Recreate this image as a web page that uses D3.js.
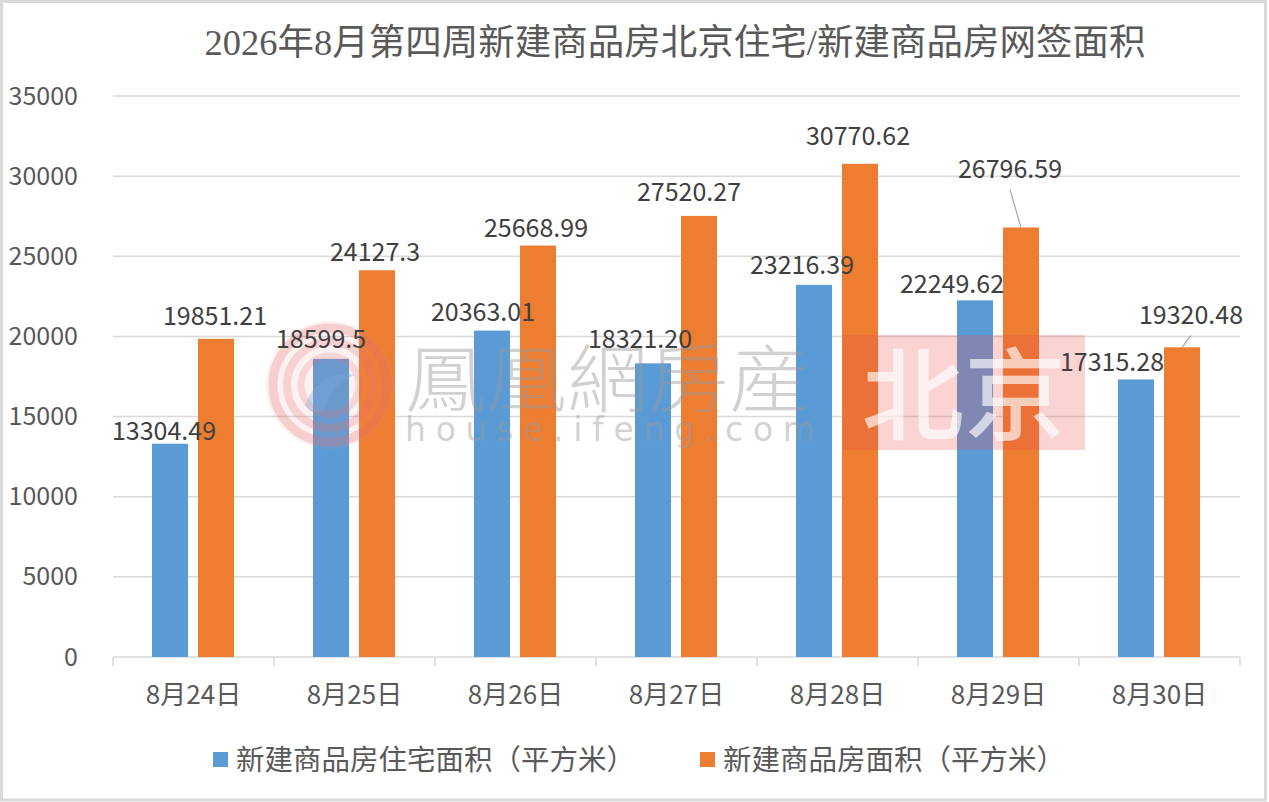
<!DOCTYPE html>
<html>
<head>
<meta charset="utf-8">
<script src="https://cdn.jsdelivr.net/npm/d3@7"></script>
<style>
  html, body { margin: 0; padding: 0; background: #fff; }
  svg { display: block; }
</style>
</head>
<body>
<svg id="chart" width="1269" height="802"></svg>
<script>
// ---------------- DATA ----------------
const title = "2026年8月第四周新建商品房北京住宅/新建商品房网签面积";
const categories = ["8月24日", "8月25日", "8月26日", "8月27日", "8月28日", "8月29日", "8月30日"];
const seriesNames = ["新建商品房住宅面积（平方米）", "新建商品房面积（平方米）"];
const residentialValues = [13304.49, 18599.5, 20363.01, 18321.20, 23216.39, 22249.62, 17315.28];
const totalValues = [19851.21, 24127.3, 25668.99, 27520.27, 30770.62, 26796.59, 19320.48];
const residentialLabels = ["13304.49", "18599.5", "20363.01", "18321.20", "23216.39", "22249.62", "17315.28"];
const totalLabels = ["19851.21", "24127.3", "25668.99", "27520.27", "30770.62", "26796.59", "19320.48"];
const yTicks = [0, 5000, 10000, 15000, 20000, 25000, 30000, 35000];

// ---------------- LAYOUT / STYLE ----------------
const W = 1269, H = 802;
const plot = { left: 113, right: 1240, top: 96, bottom: 657 };
const colors = ["#5B9BD5", "#ED7D31"];
const gridColor = "#d9d9d9";
const textColor = "#595959";
const labelColor = "#404040";
const cjk = "'Noto Sans CJK SC', 'Noto Sans', sans-serif";
// label nudges (dx from bar centre, dy of label centre from bar top), plus leader flag
const resNudge = [[-6, -13], [-10, -20], [-9, -19], [-13, -24], [-12, -20], [-23, -16], [-24, -17]];
const totNudge = [[-1, -23], [-2, -18], [-2, -18], [-10, -24], [-2, -28], [-11, -58, true], [9, -32, true]];

const svg = d3.select("#chart");

// frame
svg.append("rect").attr("x", 1.5).attr("y", 1.5).attr("width", W - 5).attr("height", H - 3.5)
  .attr("fill", "#fff").attr("stroke", "#d9d9d9").attr("stroke-width", 3);

const y = d3.scaleLinear().domain([0, 35000]).range([plot.bottom, plot.top]);
const x = d3.scaleBand().domain(categories).range([plot.left, plot.right]).paddingInner(0).paddingOuter(0);
const bw = x.bandwidth();
const xs = d3.scaleBand().domain([0, 1]).range([bw * 0.2422, bw * 0.7516]).paddingInner(0.217).paddingOuter(0);

// title
svg.append("text").attr("x", 675).attr("y", 55).attr("text-anchor", "middle")
  .attr("font-family", "'Liberation Serif', 'Noto Sans CJK SC', serif")
  .attr("font-size", 36.5).attr("fill", textColor).text(title);

// gridlines
svg.append("g").selectAll("line").data(yTicks.filter(d => d > 0)).join("line")
  .attr("x1", plot.left).attr("x2", plot.right)
  .attr("y1", d => y(d)).attr("y2", d => y(d))
  .attr("stroke", gridColor).attr("stroke-width", 1.5);

// y axis labels
const yAxis = d3.axisLeft(y).tickValues(yTicks).tickSize(0).tickPadding(35).tickFormat(d3.format("d"));
const gy = svg.append("g").attr("transform", `translate(${plot.left},0)`).call(yAxis);
gy.select(".domain").remove();
gy.selectAll("text").attr("font-family", cjk).attr("font-size", 25).attr("fill", textColor);

// x axis
const xAxis = d3.axisBottom(x).tickSize(0).tickPadding(0);
const gx = svg.append("g").attr("transform", `translate(0,${plot.bottom})`).call(xAxis);
gx.select(".domain").attr("stroke", gridColor).attr("stroke-width", 1.5).attr("d", `M${plot.left},0H${plot.right}`);
gx.selectAll("text").attr("font-family", cjk).attr("font-size", 26).attr("fill", textColor)
  .attr("dy", 0).attr("y", 47);
// x axis tick marks at band boundaries
const bounds = categories.map(c => x(c)).concat([plot.right]);
gx.append("g").selectAll("line").data(bounds).join("line")
  .attr("x1", d => d).attr("x2", d => d).attr("y1", 0).attr("y2", 9)
  .attr("stroke", gridColor).attr("stroke-width", 1.5);

// bars
const seriesValues = [residentialValues, totalValues];
const barsG = svg.append("g");
seriesValues.forEach((vals, si) => {
  barsG.append("g").selectAll("rect").data(vals).join("rect")
    .attr("x", (d, i) => x(categories[i]) + xs(si))
    .attr("y", d => y(d))
    .attr("width", xs.bandwidth())
    .attr("height", d => y(0) - y(d))
    .attr("fill", colors[si]);
});

// ---------------- WATERMARK ----------------
const wm = svg.append("g").attr("pointer-events", "none");
// logo swirl
const logo = wm.append("g").attr("transform", "translate(330,385)");
logo.append("circle").attr("r", 64).attr("fill", "rgb(240,140,140)").attr("fill-opacity", 0.12);
[[57, 9], [43, 8], [29, 7]].forEach(([r, sw], k) => {
  logo.append("circle").attr("r", r).attr("fill", "none")
    .attr("stroke", "rgb(232,110,110)").attr("stroke-opacity", 0.26 - k * 0.03).attr("stroke-width", sw);
});
logo.append("path").attr("d", "M-25,20 C-15,-5 5,-15 25,-10 C10,-5 0,5 -5,25 C-12,30 -20,28 -25,20 Z")
  .attr("fill", "rgb(120,170,220)").attr("fill-opacity", 0.35);
// brand text
wm.append("text").attr("x", 405).attr("y", 406).attr("font-family", "'Noto Sans CJK TC', 'Noto Sans CJK SC', serif")
  .attr("font-size", 74).attr("font-weight", 300).attr("fill", "#9a9a9a").attr("fill-opacity", 0.45)
  .attr("textLength", 405).attr("lengthAdjust", "spacingAndGlyphs").text("鳳凰網房産");
wm.append("text").attr("x", 405).attr("y", 441).attr("font-family", "'DejaVu Sans', sans-serif")
  .attr("font-size", 33).attr("fill", "#9a9a9a").attr("fill-opacity", 0.45)
  .attr("textLength", 410).attr("lengthAdjust", "spacing").text("house.ifeng.com");
// Beijing badge
wm.append("rect").attr("x", 843).attr("y", 335).attr("width", 242).attr("height", 115)
  .attr("fill", "rgb(235,80,80)").attr("fill-opacity", 0.25);
wm.append("text").attr("x", 964).attr("y", 432).attr("text-anchor", "middle")
  .attr("font-family", "'Noto Sans CJK SC', serif").attr("font-size", 100).attr("font-weight", 500)
  .attr("fill", "#fff").attr("fill-opacity", 0.65)
  .attr("textLength", 205).attr("lengthAdjust", "spacingAndGlyphs").text("北京");

// ---------------- DATA LABELS ----------------
const labelsG = svg.append("g");
const allLabels = [residentialLabels, totalLabels];
const nudges = [resNudge, totNudge];
seriesValues.forEach((vals, si) => {
  vals.forEach((v, i) => {
    const cx = x(categories[i]) + xs(si) + xs.bandwidth() / 2;
    const top = y(v);
    const [dx, dy, leader] = nudges[si][i];
    const lx = cx + dx, ly = top + dy;
    if (leader) {
      labelsG.append("line")
        .attr("x1", lx).attr("y1", ly + 20)
        .attr("x2", cx).attr("y2", top)
        .attr("stroke", "#a6a6a6").attr("stroke-width", 1.2);
    }
    labelsG.append("text").attr("x", lx).attr("y", ly).attr("dy", "0.36em")
      .attr("text-anchor", "middle").attr("font-family", cjk).attr("font-size", 25)
      .attr("fill", labelColor).text(allLabels[si][i]);
  });
});

// ---------------- LEGEND ----------------
const legend = svg.append("g");
const legendItems = [{ x: 213, i: 0 }, { x: 700, i: 1 }];
legendItems.forEach(it => {
  legend.append("rect").attr("x", it.x).attr("y", 752).attr("width", 15).attr("height", 15).attr("fill", colors[it.i]);
  legend.append("text").attr("x", it.x + 23).attr("y", 760).attr("dy", "0.36em")
    .attr("font-family", cjk).attr("font-size", 28.5).attr("fill", textColor).text(seriesNames[it.i]);
});
</script>
</body>
</html>
